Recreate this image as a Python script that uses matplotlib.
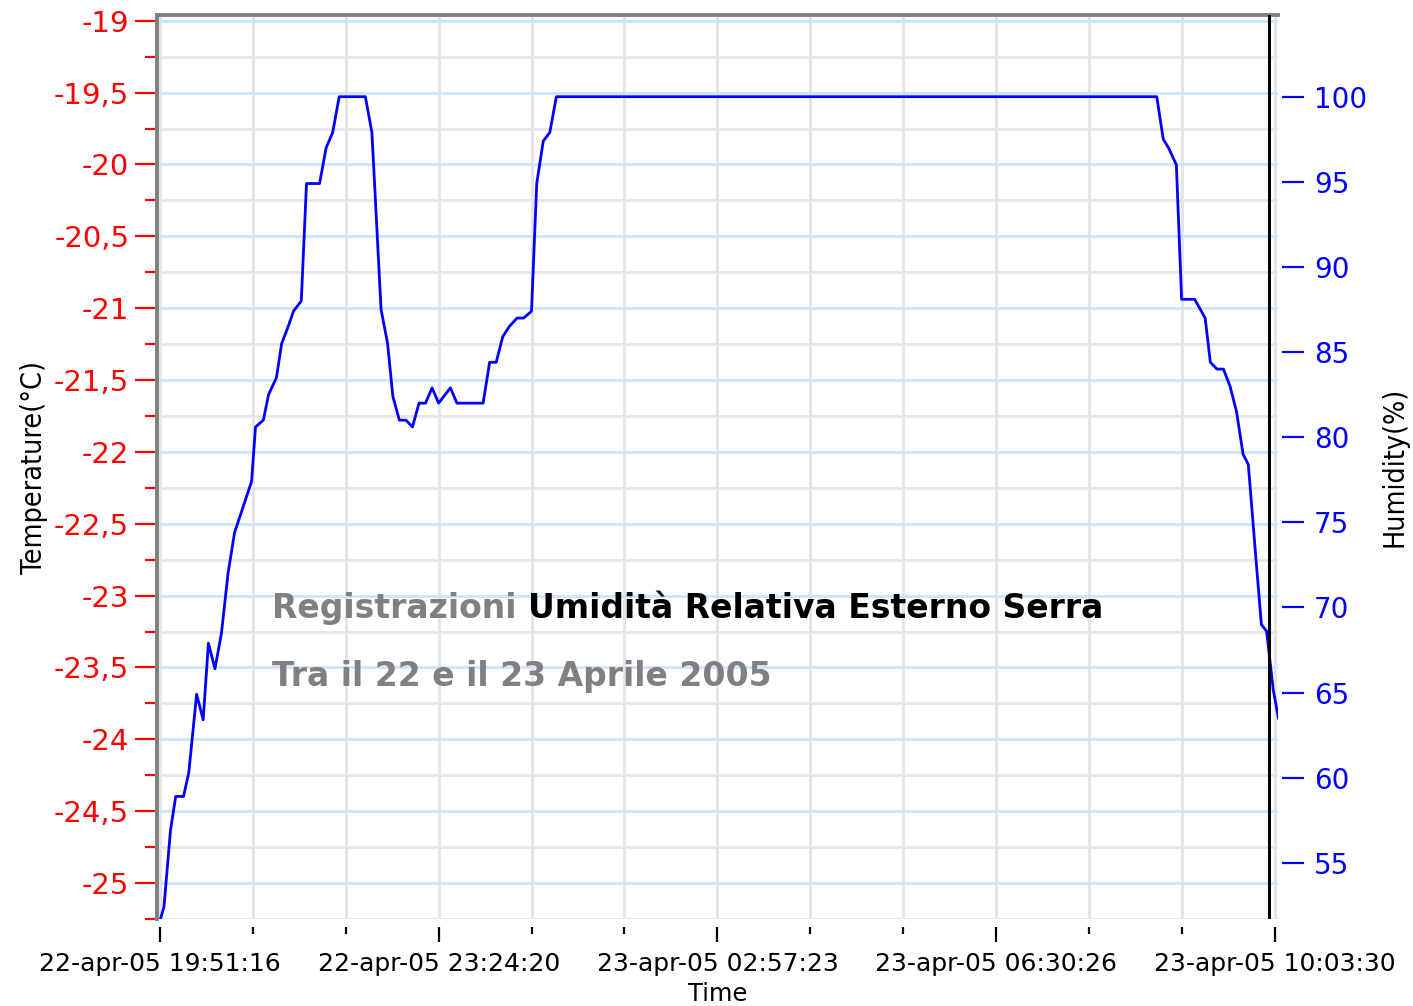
import matplotlib
matplotlib.use("Agg")
import matplotlib.pyplot as plt
import matplotlib.dates as mdates
import matplotlib.font_manager as fm
from matplotlib.ticker import MultipleLocator, FuncFormatter
from datetime import datetime, timedelta
import numpy as np

# readings: minutes after the first sample, relative humidity (%)
start = datetime(2005, 4, 22, 19, 51, 16)
minutes = [0, 3, 8, 12, 18, 22, 28, 33, 37, 42, 47, 52, 57, 70, 73, 79, 83, 89,
           93, 98, 102, 108, 112, 122, 127, 132, 137, 157, 162, 169, 174, 178,
           183, 188, 193, 198, 203, 208, 213, 222, 227, 247, 252, 257, 262, 267,
           273, 278, 284, 288, 293, 298, 303, 762, 767, 771, 777, 781, 791, 799,
           803, 808, 813, 818, 823, 828, 832, 838, 842, 846, 851, 855]
humidity = [51.6, 52.4, 56.9, 58.9, 58.9, 60.3, 64.9, 63.4, 67.9, 66.4, 68.5,
            72.0, 74.4, 77.4, 80.6, 81.0, 82.5, 83.5, 85.5, 86.5, 87.4, 88.0,
            94.9, 94.9, 97.0, 97.9, 100, 100, 97.9, 87.5, 85.5, 82.4, 81.0, 81.0,
            80.6, 82.0, 82.0, 82.9, 82.0, 82.9, 82.0, 82.0, 84.4, 84.4, 85.9,
            86.5, 87.0, 87.0, 87.4, 94.9, 97.4, 97.9, 100, 100, 97.5, 97.0, 96.0,
            88.1, 88.1, 87.0, 84.4, 84.0, 84.0, 83.0, 81.5, 79.0, 78.4, 72.7,
            69.0, 68.6, 65.2, 63.5]

tick_labels = ["22-apr-05 19:51:16", "22-apr-05 23:24:20", "23-apr-05 02:57:23",
               "23-apr-05 06:30:26", "23-apr-05 10:03:30"]
cursor_minute = 847.6
temp_range = (-25.25, -18.96)
hum_range = (51.7, 104.8)
hum_ticks = [55, 60, 65, 70, 75, 80, 85, 90, 95, 100]

# a narrow face for the axis titles, if one is installed
label_prop = fm.FontProperties(family="DejaVu Sans", size=18.5)
for key, size in [("LiberationSansNarrow-Regular", 24), ("DejaVuSansCondensed.ttf", 20.5),
                  ("RobotoCondensed-Regular", 22)]:
    found = [f.fname for f in fm.fontManager.ttflist if key in f.fname]
    if found:
        label_prop = fm.FontProperties(fname=found[0], size=size)
        break

times = [start + timedelta(minutes=m) for m in minutes]
major = [datetime.strptime(s, "%d-%b-%y %H:%M:%S") for s in tick_labels]
major_num = mdates.date2num(major)
minor_num = np.concatenate([np.linspace(a, b, 4)[1:3] for a, b in zip(major_num[:-1], major_num[1:])])

fig = plt.figure(figsize=(14.13, 10.06), dpi=100)
ax = fig.add_axes([157 / 1413, 1 - 919 / 1006, 1121 / 1413, 904 / 1006])
ax2 = ax.twinx()

# left (temperature) axis
ax.set_ylim(*temp_range)
ax.yaxis.set_major_locator(MultipleLocator(0.5))
ax.yaxis.set_minor_locator(MultipleLocator(0.25))
ax.yaxis.set_major_formatter(FuncFormatter(lambda v, p: f"{v:g}".replace(".", ",")))
ax.tick_params(axis="y", which="both", colors="red", width=1.6, labelsize=21, pad=4)
ax.tick_params(axis="y", which="major", length=16)
ax.tick_params(axis="y", which="minor", length=9)
ax.yaxis.grid(True, which="major", color="#cce5ff", lw=2)
ax.yaxis.grid(True, which="minor", color="#e6e6e6", lw=2)

# time axis
ax.set_xlim(mdates.date2num(start - timedelta(minutes=2.3)),
            mdates.date2num(start + timedelta(minutes=854.7)))
ax.set_xticks(major_num, labels=tick_labels)
ax.set_xticks(minor_num, minor=True)
ax.tick_params(axis="x", which="both", color="black", width=1.6, labelsize=18, pad=7)
ax.tick_params(axis="x", which="major", length=11)
ax.tick_params(axis="x", which="minor", length=5)
ax.xaxis.grid(True, which="both", color="#e3e3e3", lw=2)
ax.set_axisbelow(True)
ax.set_xlabel("Time", fontsize=17.5, labelpad=4)

for side in ["right", "bottom"]:
    ax.spines[side].set_visible(False)
ax.spines["bottom"].set_position(("outward", 6))
for side in ["left", "top"]:
    ax.spines[side].set_color("#808080")
    ax.spines[side].set_linewidth(2.8)

ax.set_ylabel("Temperature(°C)", fontproperties=label_prop)
ax.yaxis.set_label_coords(-0.097, 0.5)

# right (humidity) axis
ax2.set_ylim(*hum_range)
ax2.set_yticks(hum_ticks)
ax2.tick_params(axis="y", colors="blue", length=16, width=1.6, labelsize=20, pad=7)
for side in ax2.spines:
    ax2.spines[side].set_visible(False)
ax2.spines["right"].set_position(("outward", 3))
ax2.set_ylabel("Humidity(%)", fontproperties=label_prop)
ax2.yaxis.set_label_coords(1.091, 0.5)

ax2.plot(times, humidity, color="blue", lw=2)
ax2.axvline(start + timedelta(minutes=cursor_minute), color="black", lw=2.2)

t1 = ax.text(0.1026, 0.344, "Registrazioni ", transform=ax.transAxes, color="#808080",
             fontsize=23.8, fontweight="bold", va="center", ha="left")
ax.annotate("Umidità Relativa Esterno Serra", xy=(1, 0.5), xycoords=t1, color="black",
            fontsize=23.8, fontweight="bold", va="center", ha="left")
ax.text(0.1026, 0.2688, "Tra il 22 e il 23 Aprile 2005", transform=ax.transAxes,
        color="#808080", fontsize=23.8, fontweight="bold", va="center", ha="left")

fig.savefig("out.png", dpi=100)
